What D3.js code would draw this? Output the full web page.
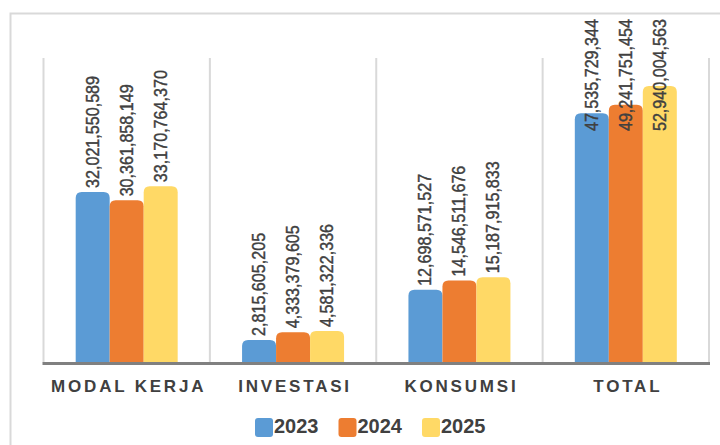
<!DOCTYPE html>
<html><head><meta charset="utf-8">
<script src="https://cdn.jsdelivr.net/npm/d3@7"></script>
<style>html,body{margin:0;padding:0;background:#fff;}svg{display:block;}</style>
</head><body>
<svg id="chart" width="720" height="445"></svg>
<script>
const categories = ["MODAL KERJA", "INVESTASI", "KONSUMSI", "TOTAL"];
const seriesNames = ["2023", "2024", "2025"];
const values2023 = [32021550589, 2815605205, 12698571527, 47535729344];
const values2024 = [30361858149, 4333379605, 14546511676, 49241751454];
const values2025 = [33170764370, 4581322336, 15187915833, 52940004563];
const colors = ["#5B9BD5", "#ED7D31", "#FFD966"];

const series = [values2023, values2024, values2025];
const svg = d3.select("#chart");
const W = 720, H = 445;
const plot = {left: 43.5, right: 709, top: 58, bottom: 362.5};

// frame
svg.append("path").attr("d", `M10.5,${H} L10.5,13.5 L${W},13.5`)
  .attr("fill","none").attr("stroke","#d9d9d9").attr("stroke-width",2);

const x0 = d3.scaleBand().domain(categories).range([plot.left, plot.right]).padding(0);
const x1 = d3.scaleBand().domain(seriesNames).range([0, 102]).padding(0);
const y = d3.scaleLinear().domain([-1.64e9, 58.46e9]).range([plot.bottom, plot.top]);

// category separators
const seps = categories.map(c => x0(c)).concat([plot.right]);
svg.append("g").selectAll("line").data(seps).join("line")
  .attr("x1", d => d).attr("x2", d => d)
  .attr("y1", plot.top).attr("y2", plot.bottom)
  .attr("stroke", "#d9d9d9").attr("stroke-width", 2);

function roundTop(x, yTop, w, yBot, r) {
  r = Math.min(r, (yBot - yTop));
  return `M${x},${yBot} L${x},${yTop + r} Q${x},${yTop} ${x + r},${yTop} L${x + w - r},${yTop} Q${x + w},${yTop} ${x + w},${yTop + r} L${x + w},${yBot} Z`;
}

const groups = svg.append("g").selectAll("g").data(categories).join("g")
  .attr("transform", c => `translate(${x0(c) + (x0.bandwidth() - 102) / 2},0)`);

const bars = [];
categories.forEach((c, ci) => {
  seriesNames.forEach((s, si) => bars.push({cat: c, ci, s, si, v: series[si][ci]}));
});

groups.each(function(c, ci) {
  const g = d3.select(this);
  const d = bars.filter(b => b.ci === ci);
  g.selectAll("path").data(d).join("path")
    .attr("d", b => roundTop(x1(b.s), y(b.v), x1.bandwidth(), plot.bottom, 6))
    .attr("fill", b => colors[b.si]);
});

// axis line
svg.append("line").attr("x1", plot.left - 1).attr("x2", plot.right + 1)
  .attr("y1", plot.bottom + 1).attr("y2", plot.bottom + 1)
  .attr("stroke", "#808080").attr("stroke-width", 3);

// value labels
const fmt = d3.format(",");
groups.each(function(c, ci) {
  const g = d3.select(this);
  const d = bars.filter(b => b.ci === ci);
  g.selectAll("text.val").data(d).join("text").attr("class", "val")
    .text(b => fmt(b.v))
    .attr("font-family", "Arial, 'Liberation Sans', sans-serif")
    .attr("font-size", 15.5)
    .attr("fill", "#404040")
    .attr("stroke", "#404040").attr("stroke-width", 0.35)
    .attr("text-anchor", "start")
    .each(function(b) {
      const len = this.getComputedTextLength() * 1.04;
      let base = y(b.v) - 4;
      if (base - len < 19) base = 19 + len;
      const cx = x1(b.s) + x1.bandwidth() / 2 + 6;
      d3.select(this).attr("transform", `translate(${cx},${base}) rotate(-90) scale(1.04,1.15)`);
    });
});

// category labels
svg.append("g").selectAll("text").data(categories).join("text")
  .attr("x", c => x0(c) + x0.bandwidth() / 2 + 2)
  .attr("y", 391.5)
  .attr("text-anchor", "middle")
  .attr("font-family", "Arial, 'Liberation Sans', sans-serif")
  .attr("font-weight", "bold")
  .attr("font-size", 17)
  .attr("letter-spacing", 2.8)
  .attr("fill", "#404040")
  .text(c => c);

// legend
const lg = svg.append("g").selectAll("g").data(seriesNames).join("g")
  .attr("transform", (s, i) => `translate(${255 + i * 83.5},418)`);
lg.append("rect").attr("width", 18).attr("height", 19).attr("rx", 3)
  .attr("fill", (s, i) => colors[i]);
lg.append("text").attr("x", 19).attr("y", 14.5)
  .attr("font-family", "Arial, 'Liberation Sans', sans-serif")
  .attr("font-weight", "bold").attr("font-size", 20)
  .attr("fill", "#404040").text(s => s);
</script>
</body></html>
